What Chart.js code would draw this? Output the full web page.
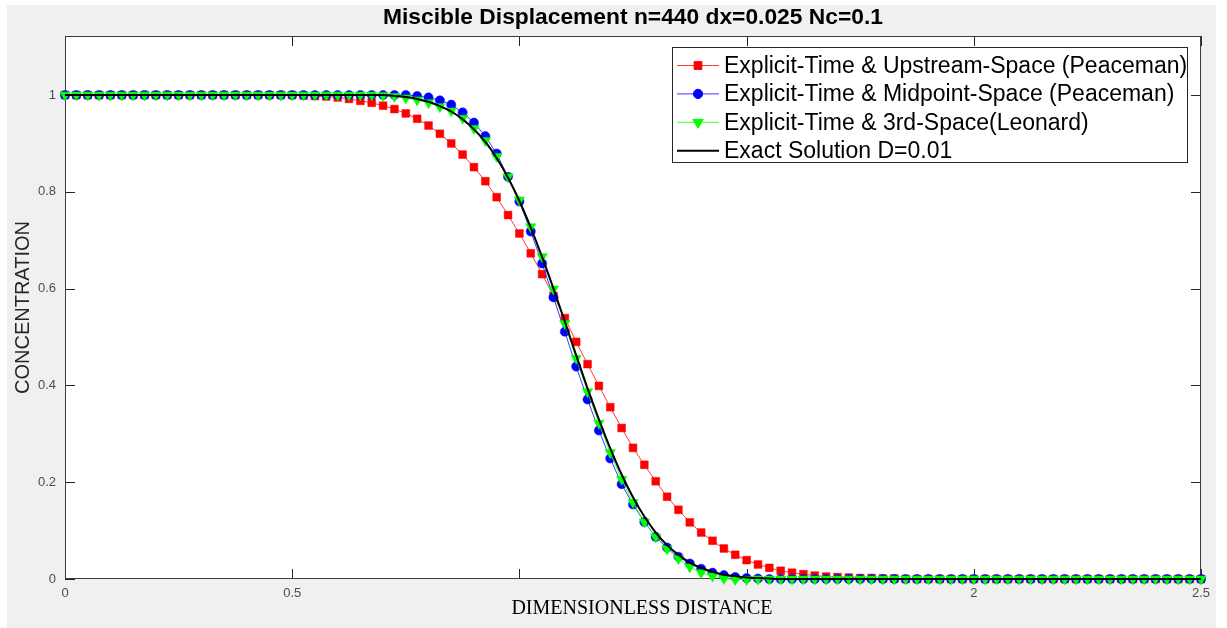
<!DOCTYPE html>
<html>
<head>
<meta charset="utf-8">
<title>Miscible Displacement</title>
<script src="https://cdn.jsdelivr.net/npm/chart.js@4.4.1/dist/chart.umd.min.js"></script>
<style>
  html, body { margin: 0; padding: 0; background: #ffffff; }
  canvas { display: block; }
</style>
</head>
<body>
<canvas id="chart" width="1227" height="628"></canvas>
<script>
// Grid positions (dimensionless distance, dx = 0.025)
const distance = [
  0, 0.025, 0.05, 0.075, 0.1, 0.125, 0.15, 0.175, 0.2, 0.225,
  0.25, 0.275, 0.3, 0.325, 0.35, 0.375, 0.4, 0.425, 0.45, 0.475,
  0.5, 0.525, 0.55, 0.575, 0.6, 0.625, 0.65, 0.675, 0.7, 0.725,
  0.75, 0.775, 0.8, 0.825, 0.85, 0.875, 0.9, 0.925, 0.95, 0.975,
  1, 1.025, 1.05, 1.075, 1.1, 1.125, 1.15, 1.175, 1.2, 1.225,
  1.25, 1.275, 1.3, 1.325, 1.35, 1.375, 1.4, 1.425, 1.45, 1.475,
  1.5, 1.525, 1.55, 1.575, 1.6, 1.625, 1.65, 1.675, 1.7, 1.725,
  1.75, 1.775, 1.8, 1.825, 1.85, 1.875, 1.9, 1.925, 1.95, 1.975,
  2, 2.025, 2.05, 2.075, 2.1, 2.125, 2.15, 2.175, 2.2, 2.225,
  2.25, 2.275, 2.3, 2.325, 2.35, 2.375, 2.4, 2.425, 2.45, 2.475,
  2.5
];

// Explicit time, upstream space (Peaceman)
const upstream = [
  1, 1, 1, 1, 1, 1, 1, 1, 1, 1,
  1, 1, 1, 1, 1, 1, 1, 1, 1, 1,
  1, 0.999, 0.998, 0.997, 0.995, 0.992, 0.988, 0.984, 0.978, 0.971,
  0.962, 0.951, 0.937, 0.920, 0.900, 0.877, 0.851, 0.822, 0.789, 0.752,
  0.714, 0.673, 0.630, 0.585, 0.539, 0.490, 0.444, 0.399, 0.355, 0.312,
  0.271, 0.236, 0.202, 0.170, 0.143, 0.117, 0.096, 0.079, 0.063, 0.050,
  0.039, 0.030, 0.023, 0.017, 0.013, 0.010, 0.007, 0.005, 0.004, 0.003,
  0.002, 0.002, 0.001, 0.001, 0, 0, 0, 0, 0, 0,
  0, 0, 0, 0, 0, 0, 0, 0, 0, 0,
  0, 0, 0, 0, 0, 0, 0, 0, 0, 0,
  0
];

// Explicit time, midpoint space (Peaceman)
const midpoint = [
  1, 1, 1, 1, 1, 1, 1, 1, 1, 1,
  1, 1, 1, 1, 1, 1, 1, 1, 1, 1,
  1, 1, 1, 1, 1, 1, 1, 1, 1, 1,
  1, 0.998, 0.995, 0.989, 0.980, 0.964, 0.943, 0.915, 0.879, 0.831,
  0.780, 0.718, 0.652, 0.582, 0.511, 0.439, 0.371, 0.307, 0.249, 0.196,
  0.154, 0.118, 0.087, 0.065, 0.046, 0.032, 0.021, 0.013, 0.008, 0.004,
  0.002, 0.001, 0, 0, 0, 0, 0, 0, 0, 0,
  0, 0, 0, 0, 0, 0, 0, 0, 0, 0,
  0, 0, 0, 0, 0, 0, 0, 0, 0, 0,
  0, 0, 0, 0, 0, 0, 0, 0, 0, 0,
  0
];

// Explicit time, third-order space (Leonard)
const leonard = [
  1, 1, 1, 1, 1, 1, 1, 1, 1, 1,
  1, 1, 1, 1, 1, 1, 1, 1, 1, 1,
  1, 1, 1, 1, 1, 1, 1, 1, 0.999, 0.997,
  0.994, 0.990, 0.984, 0.976, 0.967, 0.952, 0.931, 0.906, 0.873, 0.831,
  0.783, 0.728, 0.666, 0.599, 0.528, 0.456, 0.387, 0.322, 0.261, 0.206,
  0.158, 0.118, 0.087, 0.062, 0.042, 0.025, 0.013, 0.006, 0.001, -0.001,
  -0.001, 0, 0, 0, 0, 0, 0, 0, 0, 0,
  0, 0, 0, 0, 0, 0, 0, 0, 0, 0,
  0, 0, 0, 0, 0, 0, 0, 0, 0, 0,
  0, 0, 0, 0, 0, 0, 0, 0, 0, 0,
  0
];

// Exact solution, D = 0.01
const exact = [
  1, 1, 1, 1, 1, 1, 1, 1, 1, 1,
  1, 1, 1, 1, 1, 1, 1, 1, 1, 1,
  1, 1, 1, 1, 1, 1, 1, 1, 1, 0.998,
  0.996, 0.992, 0.986, 0.977, 0.966, 0.950, 0.929, 0.903, 0.870, 0.829,
  0.781, 0.726, 0.665, 0.600, 0.532, 0.462, 0.394, 0.330, 0.270, 0.216,
  0.169, 0.129, 0.096, 0.070, 0.050, 0.034, 0.023, 0.015, 0.009, 0.006,
  0.003, 0.002, 0.001, 0, 0, 0, 0, 0, 0, 0,
  0, 0, 0, 0, 0, 0, 0, 0, 0, 0,
  0, 0, 0, 0, 0, 0, 0, 0, 0, 0,
  0, 0, 0, 0, 0, 0, 0, 0, 0, 0,
  0
];

const seriesNames = [
  'Explicit-Time & Upstream-Space (Peaceman)',
  'Explicit-Time & Midpoint-Space (Peaceman)',
  'Explicit-Time & 3rd-Space(Leonard)',
  'Exact Solution D=0.01'
];

const xTicks = [0, 0.5, 1, 1.5, 2, 2.5];
const xTickLabels = ['0', '0.5', '', '', '2', '2.5'];
const yTicks = [0, 0.2, 0.4, 0.6, 0.8, 1];
const yTickLabels = ['0', '0.2', '0.4', '0.6', '0.8', '1'];

const chartTitle = 'Miscible Displacement n=440 dx=0.025 Nc=0.1';
const xAxisTitle = 'DIMENSIONLESS DISTANCE';
const yAxisTitle = 'CONCENTRATION';

const points = (ys) => distance.map((x, i) => ({ x: x, y: ys[i] }));

const AXIS_COLOR = '#262626';
const SANS = '"Liberation Sans", Arial, Helvetica, sans-serif';
const SERIF = '"Liberation Serif", "Times New Roman", serif';

// Figure background, axes box with inward ticks, titles and the boxed legend
const figurePlugin = {
  id: 'figure',
  beforeDraw(chart) {
    const { ctx, chartArea: a } = chart;
    ctx.save();
    ctx.fillStyle = '#ffffff';
    ctx.fillRect(0, 0, chart.width, chart.height);
    ctx.fillStyle = '#f0f0f0';
    ctx.fillRect(7, 5, 1209, chart.height - 5);
    ctx.fillStyle = '#ffffff';
    ctx.fillRect(a.left, a.top, a.right - a.left, a.bottom - a.top);
    ctx.restore();
  },
  beforeDatasetsDraw(chart) {
    const { ctx, chartArea: a, scales } = chart;
    const tick = 10;
    ctx.save();
    ctx.strokeStyle = AXIS_COLOR;
    ctx.lineWidth = 1;
    ctx.beginPath();
    scales.x.ticks.forEach((t) => {
      const px = Math.round(scales.x.getPixelForValue(t.value)) + 0.5;
      ctx.moveTo(px, a.bottom); ctx.lineTo(px, a.bottom - tick);
      ctx.moveTo(px, a.top); ctx.lineTo(px, a.top + tick);
    });
    scales.y.ticks.forEach((t) => {
      const py = Math.round(scales.y.getPixelForValue(t.value)) + 0.5;
      ctx.moveTo(a.left, py); ctx.lineTo(a.left + tick, py);
      ctx.moveTo(a.right, py); ctx.lineTo(a.right - tick, py);
    });
    ctx.stroke();
    ctx.strokeStyle = '#3c3c3c';
    ctx.strokeRect(a.left + 0.5, a.top + 0.5, a.right - a.left - 1, a.bottom - a.top - 1);
    ctx.restore();
  },
  afterDraw(chart) {
    const { ctx, chartArea: a } = chart;
    ctx.save();
    // title
    ctx.fillStyle = '#000000';
    ctx.font = 'bold 22.8px ' + SANS;
    ctx.textAlign = 'center';
    ctx.textBaseline = 'middle';
    ctx.fillText(chartTitle, (a.left + a.right) / 2, 18);
    // x axis title
    ctx.font = '20px ' + SERIF;
    ctx.fillText(xAxisTitle, 642, 609);
    // y axis title
    ctx.fillStyle = AXIS_COLOR;
    ctx.font = '20px ' + SANS;
    ctx.translate(23, (a.top + a.bottom) / 2);
    ctx.rotate(-Math.PI / 2);
    ctx.fillText(yAxisTitle, 0, 0);
    ctx.restore();

    // legend
    ctx.save();
    const L = 672, T = 47, R = 1188, B = 163;
    ctx.fillStyle = '#ffffff';
    ctx.fillRect(L, T, R - L, B - T);
    ctx.strokeStyle = AXIS_COLOR;
    ctx.lineWidth = 1;
    ctx.strokeRect(L + 0.5, T + 0.5, R - L - 1, B - T - 1);
    chart.data.datasets.forEach((ds, i) => {
      const y = 65.5 + i * 28.4;
      ctx.strokeStyle = ds.borderColor;
      ctx.lineWidth = ds.borderWidth;
      ctx.beginPath();
      ctx.moveTo(677, y);
      ctx.lineTo(719, y);
      ctx.stroke();
      if (ds.pointRadius > 0) {
        ctx.fillStyle = ds.pointBackgroundColor;
        ctx.strokeStyle = ds.pointBorderColor;
        Chart.helpers.drawPoint(ctx, {
          pointStyle: ds.pointStyle,
          rotation: ds.pointRotation || 0,
          radius: ds.pointRadius,
          borderWidth: ds.pointBorderWidth
        }, 698, y);
      }
      ctx.fillStyle = '#000000';
      ctx.font = '23px ' + SANS;
      ctx.textAlign = 'left';
      ctx.textBaseline = 'middle';
      ctx.fillText(ds.label, 724, y + 1);
    });
    ctx.restore();
  }
};

new Chart(document.getElementById('chart'), {
  type: 'line',
  data: {
    datasets: [
      {
        label: seriesNames[0],
        data: points(upstream),
        borderColor: '#ff3a3a',
        borderWidth: 1,
        pointStyle: 'rect',
        pointRadius: 5.5,
        pointBackgroundColor: '#ff0000',
        pointBorderColor: '#ff0000',
        pointBorderWidth: 0.5,
        order: 3,
        clip: false
      },
      {
        label: seriesNames[1],
        data: points(midpoint),
        borderColor: '#3a3aff',
        borderWidth: 1,
        pointStyle: 'circle',
        pointRadius: 4.6,
        pointBackgroundColor: '#0000ff',
        pointBorderColor: '#0000ff',
        pointBorderWidth: 0.5,
        order: 2,
        clip: false
      },
      {
        label: seriesNames[2],
        data: points(leonard),
        borderColor: '#3aff3a',
        borderWidth: 1,
        pointStyle: 'triangle',
        pointRotation: 180,
        pointRadius: 6,
        pointBackgroundColor: '#00ff00',
        pointBorderColor: '#00ff00',
        pointBorderWidth: 0.5,
        order: 1,
        clip: false
      },
      {
        label: seriesNames[3],
        data: points(exact),
        borderColor: '#000000',
        borderWidth: 2,
        pointRadius: 0,
        cubicInterpolationMode: 'monotone',
        order: 0,
        clip: false
      }
    ]
  },
  options: {
    responsive: false,
    animation: false,
    devicePixelRatio: 1,
    layout: { padding: { left: 0, top: 36, right: 26, bottom: 0 } },
    plugins: {
      legend: { display: false },
      title: { display: false },
      tooltip: { enabled: false }
    },
    elements: { line: { tension: 0 } },
    scales: {
      x: {
        type: 'linear',
        min: 0,
        max: 2.5,
        grid: { display: false, drawTicks: false },
        border: { display: false },
        afterBuildTicks: (scale) => { scale.ticks = xTicks.map((v) => ({ value: v })); },
        afterFit: (scale) => { scale.height = 49; },
        ticks: {
          padding: 7,
          color: '#4d4d4d',
          font: { family: SANS, size: 13 },
          maxRotation: 0,
          autoSkip: false,
          callback: (v) => xTickLabels[xTicks.indexOf(v)]
        }
      },
      y: {
        type: 'linear',
        min: 0,
        max: 1.122,
        grid: { display: false, drawTicks: false },
        border: { display: false },
        afterBuildTicks: (scale) => { scale.ticks = yTicks.map((v) => ({ value: v })); },
        afterFit: (scale) => { scale.width = 65; },
        ticks: {
          padding: 9,
          color: '#4d4d4d',
          font: { family: SANS, size: 13 },
          autoSkip: false,
          callback: (v) => yTickLabels[yTicks.indexOf(v)]
        }
      }
    }
  },
  plugins: [figurePlugin]
});
</script>
</body>
</html>
